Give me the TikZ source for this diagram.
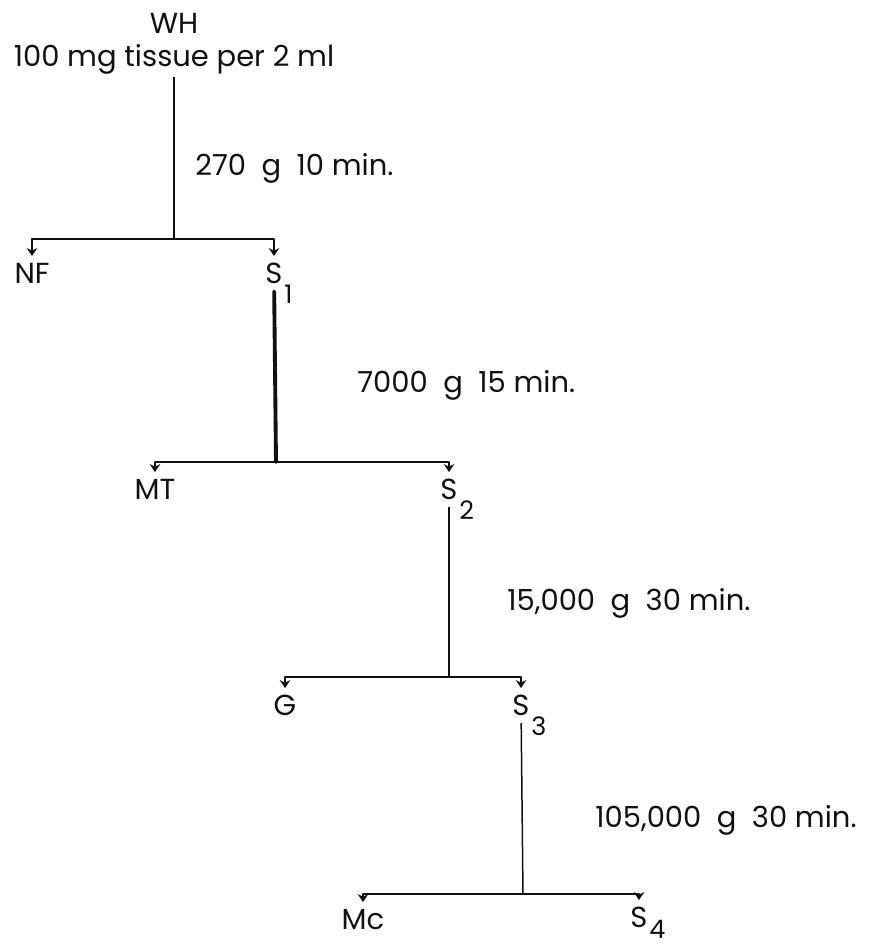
\documentclass[tikz,border=0pt]{standalone}
\usepackage{fontspec}
\setmainfont{Poppins}
\usepackage{xcolor}
\usepackage{tikz}
\usetikzlibrary{arrows.meta,positioning}
\definecolor{ink}{HTML}{111111}
\newcommand{\sub}[2][-11pt]{\rlap{\smash{\kern1pt\raisebox{#1}{\fontsize{14.5}{14}\selectfont #2}}}}
\tikzset{
  fraction diagram/.style={
    x=0.02cm, y=-0.02cm,
    font=\fontsize{16.5}{17}\selectfont,
    >={Stealth[length=4.5pt,width=6pt]},
    line cap=round,
    line join=round
  },
  fractext/.style={
    text=ink,
    inner xsep=1.5pt,
    inner ysep=4pt,
    anchor=north
  },
  spintext/.style={
    text=ink,
    anchor=base west,
    inner sep=0pt
  },
  stemline/.style={
    draw=ink,
    line width=0.85pt
  },
  heavystem/.style={
    stemline,
    line width=2.2pt
  },
  splitarrow/.style={
    ->,
    draw=ink,
    line width=1.4pt
  }
}
\begin{document}
\begin{tikzpicture}[fraction diagram]
\useasboundingbox (0,0) rectangle (881,948);
\node[text=ink, align=center, anchor=north, inner sep=1.5pt] (wh) at (174,10) {WH\\[2pt]100 mg tissue per 2 ml};
\coordinate (c1) at (174,239);
\node[fractext] (nf) at (32,256) {NF};
\node[fractext] (s1) at (274,256) {S\sub{1}};
\coordinate (c2) at (276,462);
\node[fractext] (mt) at (155,472) {MT};
\node[fractext] (s2) at (449,472) {S\sub{2}};
\coordinate (c3) at (449,677);
\node[fractext] (g) at (285,688) {G};
\node[fractext] (s3) at (521,688) {S\sub{3}};
\coordinate (c4) at (523,894);
\node[fractext] (mc) at (363,902) {Mc};
\node[fractext] (s4) at (639,900) {S\sub[-6pt]{4}};

\node[spintext] (spin1) at (195,175) {270~~g~~10 min.};
\node[spintext] (spin2) at (357,392) {7000~~g~~15 min.};
\node[spintext] (spin3) at (507,610) {15,000~~g~~30 min.};
\node[spintext] (spin4) at (595,827) {105,000~~g~~30 min.};

\draw[stemline] (wh) -- (c1);
\draw[splitarrow] (c1) -| (nf);
\draw[splitarrow] (c1) -| (s1);
\draw[heavystem] (s1) -- (c2);
\draw[splitarrow] (c2) -| (mt);
\draw[splitarrow] (c2) -| (s2);
\draw[stemline] (s2) -- (c3);
\draw[splitarrow] (c3) -| (g);
\draw[splitarrow] (c3) -| (s3);
\draw[stemline] (s3) -- (c4);
\draw[splitarrow] (c4) -| (mc);
\draw[splitarrow] (c4) -| (s4);
\end{tikzpicture}
\end{document}
